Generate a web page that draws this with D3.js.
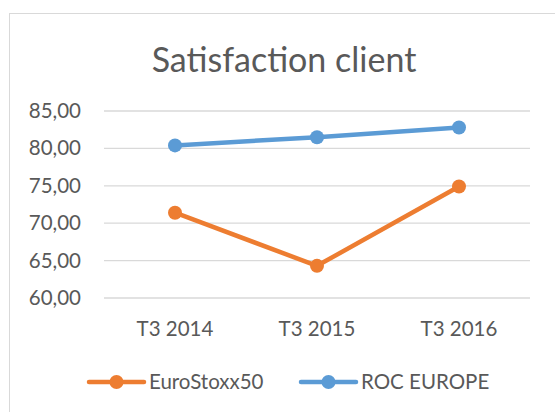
<!DOCTYPE html>
<html>
<head>
<meta charset="utf-8">
<script src="https://cdn.jsdelivr.net/npm/d3@7"></script>
<style>
  body { margin: 0; background: #fff; }
  text { font-family: Lato, "Open Sans", sans-serif; fill: #595959; }
</style>
</head>
<body>
<div id="chart"></div>
<script>
const categories = ['T3 2014', 'T3 2015', 'T3 2016'];
const euroStoxx = [71.4, 64.3, 74.9];
const rocEurope = [80.4, 81.5, 82.8];
const yTicks = [60, 65, 70, 75, 80, 85];

const series = [
  { name: 'EuroStoxx50', values: euroStoxx, color: '#ED7D31' },
  { name: 'ROC EUROPE', values: rocEurope, color: '#5B9BD5' }
];

const width = 555, height = 412;
const margin = { top: 111, right: 25, bottom: 114, left: 104 };
const plotW = width - margin.left - margin.right;
const plotH = height - margin.top - margin.bottom;

const svg = d3.select('#chart')
  .append('svg')
  .attr('width', width)
  .attr('height', height);

// chart frame
svg.append('rect')
  .attr('x', 9.5).attr('y', 13.5)
  .attr('width', 600).attr('height', 500)
  .attr('fill', 'none')
  .attr('stroke', '#D9D9D9');

svg.append('text')
  .attr('x', 284).attr('y', 72)
  .attr('text-anchor', 'middle')
  .style('font-size', '34px')
  .text('Satisfaction client');

const g = svg.append('g')
  .attr('transform', `translate(${margin.left},${margin.top})`);

const x = d3.scaleBand().domain(categories).range([0, plotW]);
const y = d3.scaleLinear().domain([60, 85]).range([plotH, 0]);

// gridlines
g.selectAll('.grid')
  .data(yTicks)
  .enter().append('line')
  .attr('x1', 0).attr('x2', plotW)
  .attr('y1', d => y(d)).attr('y2', d => y(d))
  .attr('stroke', '#D9D9D9')
  .attr('stroke-width', 1.3);

const yAxis = g.append('g')
  .call(d3.axisLeft(y).tickValues(yTicks).tickSize(0).tickPadding(23)
    .tickFormat(d => d3.format('.2f')(d).replace('.', ',')));
yAxis.select('.domain').remove();
yAxis.selectAll('text').style('font-size', '20.5px').attr('fill', '#595959');

const xAxis = g.append('g')
  .attr('transform', `translate(0,${plotH})`)
  .call(d3.axisBottom(x).tickSize(0).tickPadding(23));
xAxis.select('.domain').remove();
xAxis.selectAll('text').style('font-size', '20.5px').attr('fill', '#595959');

const line = d3.line()
  .x((d, i) => x(categories[i]) + x.bandwidth() / 2)
  .y(d => y(d));

series.forEach(s => {
  g.append('path')
    .datum(s.values)
    .attr('fill', 'none')
    .attr('stroke', s.color)
    .attr('stroke-width', 4.5)
    .attr('stroke-linejoin', 'round')
    .attr('d', line);
  g.selectAll(null)
    .data(s.values)
    .enter().append('circle')
    .attr('cx', (d, i) => x(categories[i]) + x.bandwidth() / 2)
    .attr('cy', d => y(d))
    .attr('r', 7)
    .attr('fill', s.color);
});

// legend
const legendX = [89, 301];
const legend = svg.selectAll('.legend')
  .data(series)
  .enter().append('g')
  .attr('transform', (d, i) => `translate(${legendX[i]},382)`);
legend.append('line')
  .attr('x1', 0).attr('x2', 55)
  .attr('stroke', d => d.color)
  .attr('stroke-width', 4.5)
  .attr('stroke-linecap', 'round');
legend.append('circle')
  .attr('cx', 27.5).attr('r', 7)
  .attr('fill', d => d.color);
legend.append('text')
  .attr('x', 60).attr('dy', '0.35em')
  .style('font-size', '20.5px')
  .text(d => d.name);
</script>
</body>
</html>
